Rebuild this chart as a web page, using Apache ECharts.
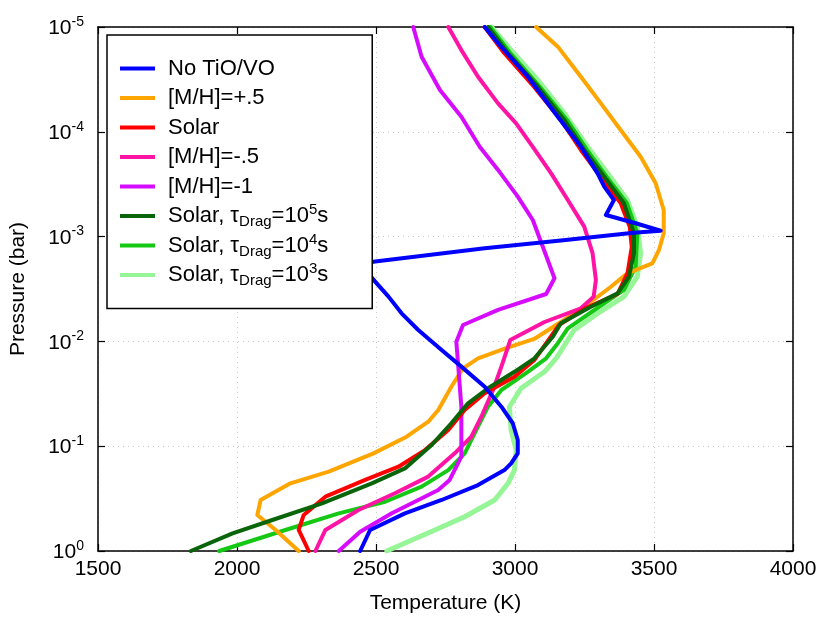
<!DOCTYPE html>
<html lang="en">
<head>
    <meta charset="UTF-8">
    <title>P-T profiles</title>
    <script src="https://cdn.jsdelivr.net/npm/echarts@6/dist/echarts.min.js"></script>
    <style>
        html, body { margin: 0; padding: 0; background: #fff; }
        #chart { width: 830px; height: 623px; }
    </style>
</head>
<body>
<div id="chart"></div>
<script>
// temperature (K) and pressure (bar)
var noTiO_T = [2891, 2939, 3046, 3154, 3237, 3297, 3321, 3356, 3327, 3434, 3524, 3427, 3165, 2891, 2497, 2442, 2497, 2545, 2592, 2652, 2736, 2807, 2891, 2951, 2992, 3010, 3010, 2986, 2962, 2867, 2736, 2604, 2479, 2443];
var noTiO_P = [1e-5, 1.43e-5, 2.98e-5, 7.18e-5, 1.39e-4, 2.49e-4, 3.34e-4, 4.48e-4, 6.22e-4, 7.46e-4, 8.79e-4, 9.18e-4, 1.09e-3, 1.29e-3, 1.73e-3, 1.82e-3, 2.69e-3, 3.74e-3, 5.40e-3, 7.78e-3, 1.21e-2, 1.74e-2, 2.71e-2, 4.20e-2, 6.04e-2, 8.72e-2, 0.117, 0.146, 0.169, 0.235, 0.326, 0.437, 0.630, 1];

var metalP5_T = [3076, 3154, 3237, 3309, 3380, 3452, 3506, 3535, 3535, 3518, 3494, 3404, 3345, 3249, 3165, 3069, 2968, 2867, 2813, 2771, 2724, 2688, 2610, 2491, 2330, 2192, 2085, 2073, 2139, 2222];
var metalP5_P = [1e-5, 1.54e-5, 2.98e-5, 5.35e-5, 9.62e-5, 1.73e-4, 3.10e-4, 5.57e-4, 9.29e-4, 1.34e-3, 1.80e-3, 2.24e-3, 3.01e-3, 4.67e-3, 6.53e-3, 9.48e-3, 1.16e-2, 1.45e-2, 1.81e-2, 2.71e-2, 4.51e-2, 5.84e-2, 8.12e-2, 0.117, 0.175, 0.226, 0.326, 0.453, 0.630, 1];

var solar_T = [2891, 2961, 3069, 3165, 3237, 3309, 3380, 3413, 3420, 3405, 3369, 3255, 3158, 3070, 2998, 2891, 2819, 2760, 2676, 2581, 2461, 2318, 2240, 2222, 2258];
var solar_P = [1e-5, 1.77e-5, 3.74e-5, 7.71e-5, 1.49e-4, 2.70e-4, 4.78e-4, 8.10e-4, 1.26e-3, 2.22e-3, 3.53e-3, 4.80e-3, 6.98e-3, 1.50e-2, 2.17e-2, 3.13e-2, 4.51e-2, 7.00e-2, 0.109, 0.157, 0.210, 0.303, 0.453, 0.630, 1];

var metalM5_T = [2760, 2807, 2867, 2939, 3004, 3064, 3130, 3190, 3249, 3279, 3291, 3283, 3237, 3106, 2983, 2951, 2921, 2879, 2843, 2783, 2688, 2568, 2437, 2318, 2282];
var metalM5_P = [1e-5, 1.66e-5, 2.98e-5, 5.35e-5, 8.30e-5, 1.39e-4, 2.49e-4, 4.48e-4, 8.04e-4, 1.44e-3, 2.59e-3, 3.74e-3, 4.83e-3, 6.53e-3, 9.70e-3, 1.74e-2, 2.91e-2, 5.23e-2, 8.12e-2, 0.117, 0.195, 0.281, 0.406, 0.630, 1];

var metalM1_T = [2634, 2664, 2730, 2807, 2873, 2939, 3010, 3064, 3100, 3142, 3112, 2939, 2813, 2789, 2796, 2807, 2807, 2765, 2724, 2557, 2443, 2366];
var metalM1_P = [1e-5, 1.92e-5, 3.99e-5, 7.18e-5, 1.39e-4, 2.31e-4, 4.16e-4, 6.95e-4, 1.25e-3, 2.50e-3, 3.53e-3, 5.01e-3, 6.98e-3, 1.01e-2, 1.74e-2, 4.20e-2, 0.126, 0.210, 0.262, 0.437, 0.655, 1];

var drag5_T = [2903, 2975, 3082, 3177, 3249, 3321, 3392, 3428, 3428, 3410, 3369, 3273, 3165, 3136, 3070, 2998, 2903, 2831, 2771, 2700, 2604, 2485, 2306, 2127, 1984, 1834];
var drag5_P = [1e-5, 1.78e-5, 3.71e-5, 7.71e-5, 1.49e-4, 2.68e-4, 4.81e-4, 9.29e-4, 1.44e-3, 2.41e-3, 3.48e-3, 4.67e-3, 6.72e-3, 9.02e-3, 1.45e-2, 1.95e-2, 2.80e-2, 3.90e-2, 6.04e-2, 9.74e-2, 0.163, 0.226, 0.351, 0.506, 0.678, 1];

var drag4_T = [2911, 2983, 3090, 3187, 3259, 3330, 3402, 3440, 3434, 3392, 3291, 3190, 3154, 3112, 3046, 2951, 2903, 2861, 2819, 2760, 2664, 2533, 2366, 2174, 1936];
var drag4_P = [1e-5, 1.77e-5, 3.74e-5, 7.71e-5, 1.49e-4, 2.70e-4, 4.78e-4, 9.29e-4, 1.94e-3, 3.23e-3, 4.91e-3, 7.50e-3, 1.04e-2, 1.45e-2, 1.95e-2, 2.91e-2, 4.20e-2, 7.00e-2, 0.117, 0.169, 0.243, 0.339, 0.437, 0.630, 1];

var drag3_T = [2915, 2986, 3082, 3177, 3261, 3333, 3404, 3440, 3452, 3440, 3392, 3297, 3213, 3190, 3148, 3106, 3022, 2980, 2986, 3004, 2998, 2975, 2927, 2819, 2712, 2539];
var drag3_P = [1e-5, 1.66e-5, 3.20e-5, 6.66e-5, 1.39e-4, 2.49e-4, 4.48e-4, 8.04e-4, 1.44e-3, 2.41e-3, 3.74e-3, 5.40e-3, 7.78e-3, 9.70e-3, 1.45e-2, 1.95e-2, 2.80e-2, 4.20e-2, 7.00e-2, 0.109, 0.169, 0.226, 0.326, 0.471, 0.630, 1];

var legendNames = ['No TiO/VO', '[M/H]=+.5', 'Solar', '[M/H]=-.5', '[M/H]=-1',
    'Solar, τDrag=10^5s', 'Solar, τDrag=10^4s', 'Solar, τDrag=10^3s'];

var font = 'Liberation Sans';

function pairs(T, P) {
    var out = [];
    for (var i = 0; i < T.length; i++) out.push([T[i], P[i]]);
    return out;
}

function line(name, T, P, color, width) {
    return {
        name: name,
        type: 'line',
        data: pairs(T, P),
        showSymbol: false,
        symbol: 'none',
        lineStyle: { color: color, width: width, join: 'round', cap: 'round' },
        itemStyle: { color: color },
        emphasis: { disabled: true },
        animation: false
    };
}

var legendText = function (name) {
    var m = name.match(/^Solar, τDrag=10\^(\d)s$/);
    if (m) return 'Solar, τ{sub|Drag}=10{sup|' + m[1] + '}s';
    return name;
};

var chart = echarts.init(document.getElementById('chart'));

var tickStyle = { inside: true, length: 7, lineStyle: { color: '#000', width: 1.2 } };
var axisLineStyle = { lineStyle: { color: '#000', width: 1.5 } };
var dotted = { show: true, lineStyle: { color: '#c8c8c8', width: 1, type: [1, 4] } };

var option = {
    animation: false,
    backgroundColor: '#fff',
    grid: { left: 95, right: 37, top: 27, bottom: 72 },
    legend: {
        data: legendNames,
        orient: 'vertical',
        left: 107,
        top: 35,
        padding: [20, 44, 20, 13],
        itemGap: 2.5,
        itemWidth: 35,
        itemHeight: 4,
        icon: 'rect',
        backgroundColor: '#fff',
        borderColor: '#000',
        borderWidth: 1.5,
        borderRadius: 0,
        selectedMode: false,
        formatter: legendText,
        textStyle: {
            fontFamily: font, fontSize: 22, color: '#000', lineHeight: 27,
            padding: [0, 0, 0, 8],
            rich: {
                sub: { fontFamily: font, fontSize: 15, lineHeight: 15, verticalAlign: 'bottom', color: '#000' },
                sup: { fontFamily: font, fontSize: 15, lineHeight: 15, verticalAlign: 'top', color: '#000' }
            }
        }
    },
    xAxis: [{
        type: 'value', min: 1500, max: 4000, interval: 500,
        name: 'Temperature (K)', nameLocation: 'middle', nameGap: 42,
        nameTextStyle: { fontFamily: font, fontSize: 21, color: '#000' },
        axisLine: axisLineStyle, axisTick: tickStyle,
        axisLabel: { fontFamily: font, fontSize: 21, color: '#000', margin: 8,
            formatter: function (v) { return String(v); } },
        splitLine: dotted
    }, {
        type: 'value', min: 1500, max: 4000, interval: 500, position: 'top',
        axisLine: axisLineStyle, axisTick: tickStyle,
        axisLabel: { show: false }, splitLine: { show: false }
    }],
    yAxis: [{
        type: 'log', logBase: 10, min: 1e-5, max: 1, inverse: true,
        name: 'Pressure (bar)', nameLocation: 'middle', nameGap: 69,
        nameTextStyle: { fontFamily: font, fontSize: 21, color: '#000' },
        axisLine: axisLineStyle, axisTick: tickStyle, minorTick: { show: false },
        axisLabel: {
            margin: 14,
            formatter: function (v) {
                return '{b|10}{s|' + Math.round(Math.log10(v)) + '}';
            },
            rich: {
                b: { fontFamily: font, fontSize: 21, lineHeight: 24, color: '#000', verticalAlign: 'bottom' },
                s: { fontFamily: font, fontSize: 14, lineHeight: 14, color: '#000', verticalAlign: 'top' }
            }
        },
        splitLine: dotted
    }, {
        type: 'log', logBase: 10, min: 1e-5, max: 1, inverse: true, position: 'right',
        axisLine: axisLineStyle, axisTick: tickStyle,
        axisLabel: { show: false }, splitLine: { show: false }
    }],
    series: [
        line('Solar, τDrag=10^3s', drag3_T, drag3_P, '#96f596', 5),
        line('Solar, τDrag=10^4s', drag4_T, drag4_P, '#14c814', 4),
        line('[M/H]=+.5', metalP5_T, metalP5_P, '#ffa500', 4),
        line('[M/H]=-.5', metalM5_T, metalM5_P, '#ff14a5', 4),
        line('[M/H]=-1', metalM1_T, metalM1_P, '#d60cff', 4),
        line('Solar', solar_T, solar_P, '#ff0000', 4),
        line('Solar, τDrag=10^5s', drag5_T, drag5_P, '#0a640a', 4),
        line('No TiO/VO', noTiO_T, noTiO_P, '#0000ff', 4)
    ]
};

chart.setOption(option);
</script>
</body>
</html>
